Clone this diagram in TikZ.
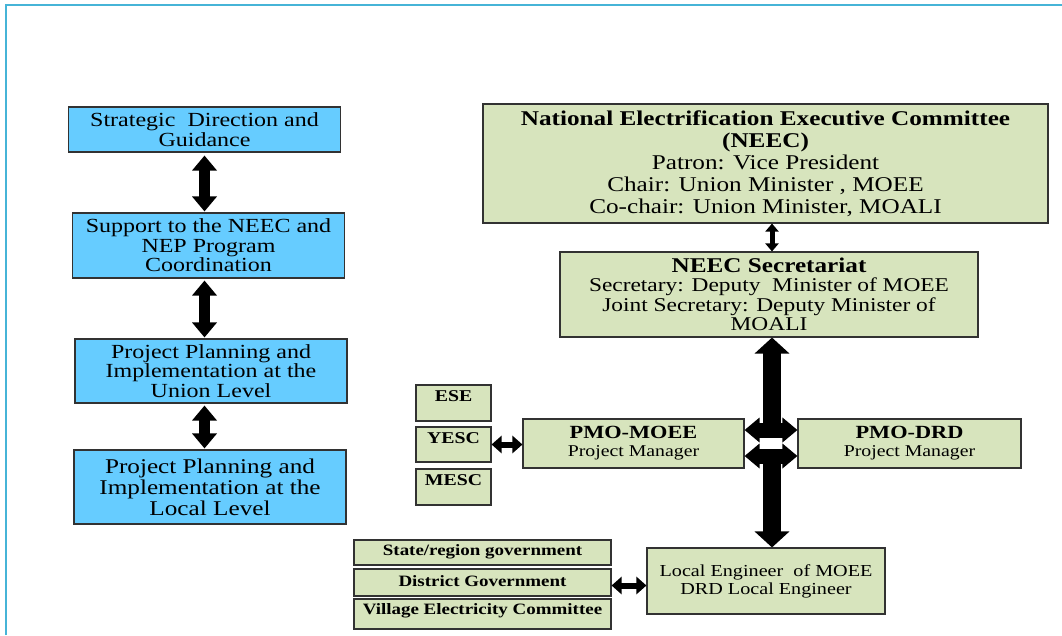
\documentclass[tikz,border=0pt]{standalone}
\usepackage{fontspec}
\setmainfont{Liberation Serif}[FakeStretch=1.2]
\usetikzlibrary{arrows.meta, calc, positioning}

\definecolor{skyfill}{RGB}{102,204,255}
\definecolor{olivefill}{RGB}{215,228,189}
\definecolor{framecol}{RGB}{70,180,215}
\definecolor{edgecol}{RGB}{50,50,50}

\begin{document}
\begin{tikzpicture}[x=1pt, y=-1pt,
      base/.style = {draw=edgecol, line width=1.1pt, align=center, inner sep=2pt},
     level/.style = {base, fill=skyfill, minimum width=272pt,
                     font=\fontsize{20}{19.5}\selectfont},
     board/.style = {base, fill=olivefill},
      unit/.style = {board, minimum width=75pt, font=\bfseries\fontsize{16.5}{16}\selectfont},
     local/.style = {board, minimum width=257pt, font=\bfseries\fontsize{15.8}{16}\selectfont},
       pmo/.style = {board, minimum height=49pt, font=\fontsize{16.5}{18}\selectfont},
  linkarrow/.style = {line width=11pt, {Triangle[width=24pt,length=15pt]}-{Triangle[width=24pt,length=15pt]}},
  tinyarrow/.style = {line width=6pt, {Triangle[width=17pt,length=10pt]}-{Triangle[width=17pt,length=10pt]}},
   hubarrow/.style = {line width=15pt, {Triangle[width=24pt,length=15pt]}-{Triangle[width=24pt,length=15pt]}},
      trunk/.style = {line width=18pt}
  ]
  \useasboundingbox (0,0) rectangle (1062,635);
  \draw[framecol, line width=1.6pt] (6,635) -- (6,5) -- (1062,5);
  % left column
  \node [level, minimum height=45pt] (strategy) at (204.5,129.5) {Strategic\ \ Direction and\\ Guidance};
  \node [level, minimum height=65pt] (support)  at (208.5,245.5) {Support to the NEEC and\\ NEP Program\\ Coordination};
  \node [level, minimum height=64pt] (unionlvl) at (211,371)     {Project Planning and\\ Implementation at the\\ Union Level};
  \node [level, minimum height=74pt, font=\fontsize{21}{21}\selectfont] (locallvl) at (210,487) {Project Planning and\\ Implementation at the\\ Local Level};
  % right side
  \node [board, minimum width=565pt, minimum height=119pt, font=\fontsize{21}{22}\selectfont] (neec) at (765.5,163.5)
        {\textbf{National Electrification Executive Committee}\\ \textbf{(NEEC)}\\ Patron: Vice President\\ Chair: Union Minister , MOEE\\ Co-chair: Union Minister, MOALI};
  \node [board, minimum width=418pt, minimum height=85pt, font=\fontsize{19.5}{19.5}\selectfont] (secret) at (769,294.5)
        {{\fontsize{21}{20}\selectfont\textbf{NEEC Secretariat}}\\ Secretary: Deputy\ \ Minister of MOEE\\ Joint Secretary: Deputy Minister of\\ MOALI};
  \node [pmo, minimum width=221pt] (pmomoee) at (633.5,443.5) {{\fontsize{18.6}{18}\selectfont\textbf{PMO-MOEE}}\\ Project Manager};
  \node [pmo, minimum width=223pt] (pmodrd)  at (909.5,443.5) {{\fontsize{18.6}{18}\selectfont\textbf{PMO-DRD}}\\ Project Manager};
  \node [unit, text height=14pt, text depth=18pt] (ese)  at (453.5,403)   {ESE};
  \node [unit, text height=14pt, text depth=17pt] (yesc) at (453.5,444.5) {YESC};
  \node [unit, text height=14pt, text depth=18pt] (mesc) at (453.5,487)   {MESC};
  \node [board, minimum width=238pt, minimum height=66pt, font=\fontsize{16.8}{18}\selectfont] (engineer) at (766,581)
        {Local Engineer\ \ of MOEE\\ DRD Local Engineer};
  \node [local, text height=13pt, text depth=8pt]  (stategov)    at (482.5,552.5) {State/region government};
  \node [local, text height=15pt, text depth=8pt]  (districtgov) at (482.5,582.5) {District Government};
  \node [local, text height=13pt, text depth=13pt] (villagecom)  at (482.5,614)   {Village Electricity Committee};
  % hub of the trunk
  \coordinate (hubtop) at (772,430);
  \coordinate (hubbot) at (772,456);
  %---
  \draw [linkarrow] ([yshift=-3pt]strategy.south) -- ([yshift=1pt]support.north -| strategy.south);
  \draw [linkarrow] ([yshift=-2pt]support.south -| strategy.south) -- ([yshift=1pt]unionlvl.north -| strategy.south);
  \draw [linkarrow] ([yshift=-2pt]unionlvl.south -| strategy.south) -- ([yshift=1pt]locallvl.north -| strategy.south);
  \draw [line width=5pt, {Triangle[width=13pt,length=8pt]}-{Triangle[width=13pt,length=8pt]}]
        (secret.north -| hubtop) -- (neec.south -| hubtop);
  \draw [trunk, {Triangle[width=34pt,length=16pt]}-] (secret.south -| hubtop) -- (hubtop);
  \draw [trunk, -{Triangle[width=34pt,length=16pt]}] (hubbot) -- (engineer.north -| hubbot);
  \draw [hubarrow] (pmomoee.east |- hubtop) -- (pmodrd.west |- hubtop);
  \draw [hubarrow] (pmomoee.east |- hubbot) -- (pmodrd.west |- hubbot);
  \draw [tinyarrow] (yesc.east) -- (yesc.east -| pmomoee.west);
  \draw [tinyarrow] ([yshift=-3pt]districtgov.east) -- ([yshift=-3pt]districtgov.east -| engineer.west);
\end{tikzpicture}
\end{document}
